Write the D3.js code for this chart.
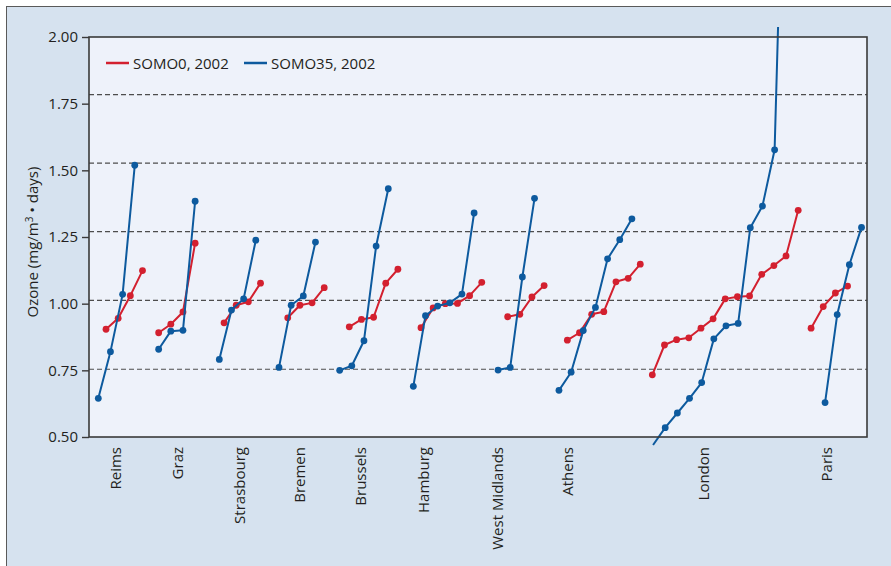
<!DOCTYPE html>
<html>
<head>
<meta charset="utf-8">
<script src="https://cdn.jsdelivr.net/npm/d3@7"></script>
<style>
  html, body { margin: 0; padding: 0; background: #ffffff; }
  svg { display: block; }
  text { font-family: "Open Sans", "Noto Sans", sans-serif; fill: #231f20; }
</style>
</head>
<body>
<svg id="chart" width="891" height="566"></svg>
<script>
// ---------------- DATA ----------------
const cities = ["Reims", "Graz", "Strasbourg", "Bremen", "Brussels", "Hamburg", "West Midlands", "Athens", "London", "Paris"];
// label positions along the station-rank axis (slot units)
const labelPos = [2.25, 7.3, 12.4, 17.35, 22.4, 27.55, 33.65, 39.4, 50.6, 60.7];

// SOMO0, 2002 (sorted station values per city)
const somo0Reims = [0.904, 0.945, 1.030, 1.124];
const somo0Graz = [0.891, 0.923, 0.969, 1.227];
const somo0Strasbourg = [0.928, 0.994, 1.007, 1.077];
const somo0Bremen = [0.947, 0.994, 1.003, 1.060];
const somo0Brussels = [0.913, 0.941, 0.949, 1.077, 1.129];
const somo0Hamburg = [0.910, 0.984, 1.000, 1.001, 1.030, 1.080];
const somo0WestMidlands = [0.951, 0.960, 1.025, 1.068];
const somo0Athens = [0.863, 0.891, 0.960, 0.970, 1.082, 1.095, 1.148];
const somo0London = [0.733, 0.845, 0.865, 0.872, 0.908, 0.943, 1.018, 1.026, 1.029, 1.110, 1.143, 1.179, 1.350];
const somo0Paris = [0.908, 0.989, 1.040, 1.066];

// SOMO35, 2002
const somo35Reims = [0.645, 0.820, 1.035, 1.519];
const somo35Graz = [0.829, 0.897, 0.900, 1.384];
const somo35Strasbourg = [0.791, 0.976, 1.018, 1.238];
const somo35Bremen = [0.761, 0.994, 1.029, 1.231];
const somo35Brussels = [0.750, 0.767, 0.861, 1.216, 1.431];
const somo35Hamburg = [0.690, 0.955, 0.991, 1.003, 1.036, 1.340];
const somo35WestMidlands = [0.751, 0.761, 1.100, 1.395];
const somo35Athens = [0.675, 0.743, 0.899, 0.986, 1.168, 1.240, 1.318];
const somo35London = [0.47, 0.535, 0.590, 0.645, 0.704, 0.868, 0.917, 0.926, 1.285, 1.366, 1.577, 3.2];
const somo35Paris = [0.629, 0.959, 1.146, 1.286];

// first-station rank position for each city (slot units)
const somo0Start = [1.40, 5.73, 11.11, 16.35, 21.41, 27.31, 34.44, 39.35, 46.34, 59.40];
const somo35Start = [0.765, 5.73, 10.72, 15.63, 20.62, 26.68, 33.65, 38.66, 46.40, 60.55];

const yTicks = [0.50, 0.75, 1.00, 1.25, 1.50, 1.75, 2.00];
const refLines = [0.754, 1.012, 1.270, 1.527, 1.784];
const seriesNames = ["SOMO0, 2002", "SOMO35, 2002"];

const somo0 = [somo0Reims, somo0Graz, somo0Strasbourg, somo0Bremen, somo0Brussels, somo0Hamburg, somo0WestMidlands, somo0Athens, somo0London, somo0Paris];
const somo35 = [somo35Reims, somo35Graz, somo35Strasbourg, somo35Bremen, somo35Brussels, somo35Hamburg, somo35WestMidlands, somo35Athens, somo35London, somo35Paris];

// ---------------- LAYOUT ----------------
const W = 891, H = 566;
const plot = { left: 89, top: 37, right: 867, bottom: 437 };
const RED = "#d3202f", BLUE = "#0d5a9e";

const svg = d3.select("#chart");

// outer panel
svg.append("rect")
  .attr("x", 6.5).attr("y", 6.5).attr("width", W).attr("height", H)
  .attr("fill", "#d6e2ef").attr("stroke", "#5a5a5a").attr("stroke-width", 1);

// plot background
svg.append("rect")
  .attr("x", plot.left).attr("y", plot.top)
  .attr("width", plot.right - plot.left).attr("height", plot.bottom - plot.top)
  .attr("fill", "#eef2fa");

const x = d3.scaleLinear().domain([0, 64]).range([plot.left, plot.right]);
const y = d3.scaleLinear().domain([0.5, 2.0]).range([plot.bottom, plot.top]);

// reference dashed lines
svg.append("g").selectAll("line").data(refLines).join("line")
  .attr("x1", plot.left).attr("x2", plot.right)
  .attr("y1", d => y(d)).attr("y2", d => y(d))
  .attr("stroke", "#4d4d4d").attr("stroke-width", 1.2)
  .attr("stroke-dasharray", "5,3");

// clip for series
svg.append("clipPath").attr("id", "clip")
  .append("rect").attr("x", plot.left).attr("y", plot.top - 10)
  .attr("width", plot.right - plot.left).attr("height", plot.bottom - plot.top + 20);

const line = d3.line().x(d => x(d.x)).y(d => y(d.v));

function drawSeries(groups, starts, color) {
  const g = svg.append("g").attr("clip-path", "url(#clip)");
  groups.forEach((vals, i) => {
    const pts = vals.map((v, j) => ({ x: starts[i] + j, v }));
    g.append("path").datum(pts)
      .attr("d", line)
      .attr("fill", "none").attr("stroke", color).attr("stroke-width", 2)
      .attr("stroke-linejoin", "round");
    g.selectAll(null).data(pts.filter(p => p.v >= 0.5 && p.v <= 2.0)).join("circle")
      .attr("cx", d => x(d.x)).attr("cy", d => y(d.v)).attr("r", 3.4)
      .attr("fill", color);
  });
}
drawSeries(somo0, somo0Start, RED);
drawSeries(somo35, somo35Start, BLUE);

// plot frame
svg.append("rect")
  .attr("x", plot.left).attr("y", plot.top)
  .attr("width", plot.right - plot.left).attr("height", plot.bottom - plot.top)
  .attr("fill", "none").attr("stroke", "#3a3a3a").attr("stroke-width", 1.6);

// y axis
const yAxis = d3.axisLeft(y).tickValues(yTicks).tickFormat(d3.format(".2f")).tickSize(7).tickPadding(4);
const ya = svg.append("g").attr("transform", `translate(${plot.left},0)`).call(yAxis);
ya.select(".domain").remove();
ya.selectAll(".tick line").attr("stroke", "#3a3a3a").attr("stroke-width", 1.4);
ya.selectAll(".tick text").attr("font-size", 15).attr("font-family", "Open Sans, sans-serif").attr("fill", "#231f20");

// y title
const yt = svg.append("text")
  .attr("transform", `translate(38,${(plot.top + plot.bottom) / 2 + 5}) rotate(-90)`)
  .attr("text-anchor", "middle").attr("font-size", 15);
yt.append("tspan").text("Ozone (mg/m");
yt.append("tspan").attr("dy", -5).attr("font-size", 10).text("3");
yt.append("tspan").attr("dy", 5).text(" \u2022 days)");

// x labels
const xa = svg.append("g");
xa.selectAll("text").data(cities).join("text")
  .attr("transform", (d, i) => `translate(${x(labelPos[i]) + 5},${plot.bottom + 10}) rotate(-90)`)
  .attr("text-anchor", "end")
  .attr("font-size", 15)
  .text(d => d);

// legend
const legendItems = [
  { name: seriesNames[0], color: RED, x0: 106 },
  { name: seriesNames[1], color: BLUE, x0: 244 }
];
const lg = svg.append("g");
legendItems.forEach(it => {
  lg.append("line").attr("x1", it.x0).attr("x2", it.x0 + 23)
    .attr("y1", 63).attr("y2", 63).attr("stroke", it.color).attr("stroke-width", 2.5);
  lg.append("text").attr("x", it.x0 + 27).attr("y", 68.5)
    .attr("font-size", 15).text(it.name);
});
</script>
</body>
</html>
